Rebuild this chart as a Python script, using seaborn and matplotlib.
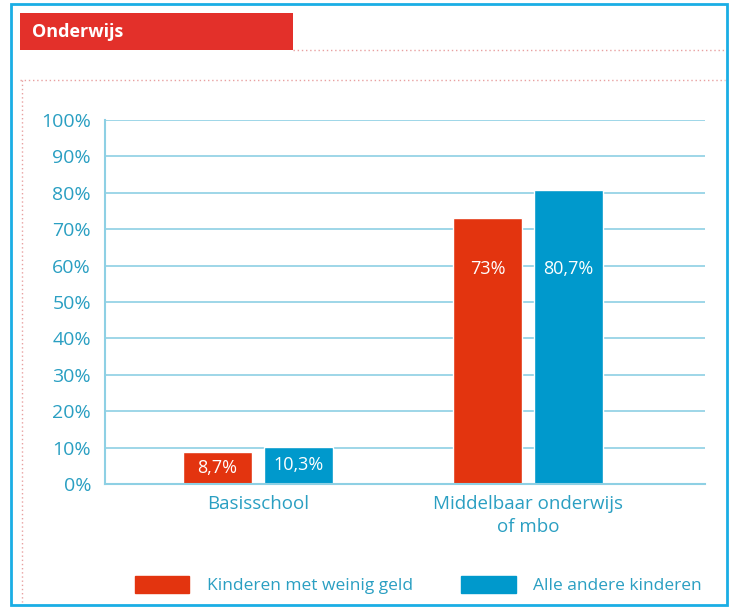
import matplotlib
matplotlib.use("Agg")
import matplotlib.pyplot as plt
import matplotlib.patches as mpatches
from matplotlib.lines import Line2D
import pandas as pd
import seaborn as sns

categories = ["Basisschool", "Middelbaar onderwijs\nof mbo"]
groups = ["Kinderen met weinig geld", "Alle andere kinderen"]
weinig_geld = [8.7, 73.0]
andere = [10.3, 80.7]
value_labels = [["8,7%", "73%"], ["10,3%", "80,7%"]]
yticks = [0, 10, 20, 30, 40, 50, 60, 70, 80, 90, 100]

RED = "#E3340F"
BLUE = "#0099CC"
TXT = "#2A9FC2"
GRID = "#8ED0E4"

df = pd.DataFrame({
    "cat": categories * 2,
    "groep": [groups[0]] * 2 + [groups[1]] * 2,
    "val": weinig_geld + andere,
})

sns.set_style("white")
plt.rcParams["font.family"] = ["Open Sans", "DejaVu Sans"]

fig = plt.figure(figsize=(7.33, 6.08), dpi=100)
ax = fig.add_axes([105 / 733, 1 - 484 / 608, 600 / 733, 364 / 608])

sns.barplot(data=df, x="cat", y="val", hue="groep", hue_order=groups,
            palette=[RED, BLUE], width=0.6, gap=0.15, saturation=1,
            legend=False, ax=ax)

ax.set_ylim(0, 100)
ax.set_xlim(-0.567, 1.656)
ax.set_yticks(yticks)
ax.set_yticklabels([f"{t}%" for t in yticks])
ax.yaxis.grid(True, color=GRID, lw=1.2)
ax.set_axisbelow(True)
ax.set_xlabel("")
ax.set_ylabel("")
ax.tick_params(axis="y", colors=TXT, labelsize=14, length=0, pad=10)
ax.tick_params(axis="x", colors=TXT, labelsize=13.5, length=0, pad=8)
for lbl in ax.get_xticklabels():
    lbl.set_linespacing(1.35)
for s in ["top", "right"]:
    ax.spines[s].set_visible(False)
ax.spines["left"].set_color(GRID)
ax.spines["bottom"].set_color(GRID)
ax.spines["left"].set_linewidth(1.5)
ax.spines["bottom"].set_linewidth(1.5)

for cont, labs in zip(ax.containers, value_labels):
    for bar, lab in zip(cont, labs):
        h = bar.get_height()
        y = 59 if h > 30 else h / 2
        ax.text(bar.get_x() + bar.get_width() / 2, y, lab, color="white",
                ha="center", va="center", fontsize=13)

# frame and header
fig.patches.append(mpatches.Rectangle((11 / 733, 3 / 608), 716 / 733, 601 / 608,
                                      transform=fig.transFigure, fill=False,
                                      ec="#1AAEE5", lw=2))
fig.patches.append(mpatches.Rectangle((20 / 733, 1 - 50 / 608), 273 / 733, 37 / 608,
                                      transform=fig.transFigure, fc="#E3302A", ec="none"))
fig.text(32 / 733, 1 - 32 / 608, "Onderwijs", color="white", fontsize=13,
         fontweight="bold", va="center", ha="left")
dot = dict(color="#E8A0A0", lw=1, ls=(0, (1, 2)), transform=fig.transFigure)
fig.lines.append(Line2D([293 / 733, 725 / 733], [1 - 50 / 608] * 2, **dot))
fig.lines.append(Line2D([20 / 733, 725 / 733], [1 - 80 / 608] * 2, **dot))
fig.lines.append(Line2D([22 / 733] * 2, [1 - 80 / 608, 0.01], **dot))

handles = [mpatches.Patch(color=RED, label=groups[0]),
           mpatches.Patch(color=BLUE, label=groups[1])]
leg = fig.legend(handles=handles, loc="center left", bbox_to_anchor=(119 / 733, 1 - 585 / 608),
                 ncol=2, frameon=False, fontsize=12.5, handlelength=3.15, handleheight=1.1,
                 handletextpad=1.0, columnspacing=2.8)
for t in leg.get_texts():
    t.set_color(TXT)

fig.savefig("out.png", dpi=100)
